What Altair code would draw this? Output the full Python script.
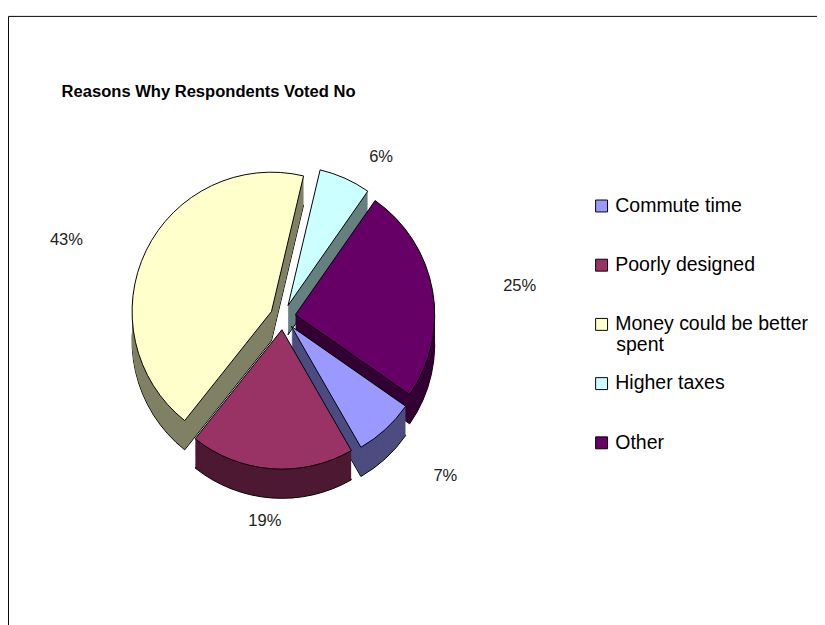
import altair as alt
import pandas as pd

# ---- data ----
reasons = ["Commute time", "Poorly designed", "Money could be better spent", "Higher taxes", "Other"]
shares = [7, 19, 43, 6, 25]
order = [0, 1, 2, 3, 4]
legend_first_line = {"Money could be better spent": "Money could be better"}
legend_second_line = ["spent"]

# ---- styles ----
top_colors = ["#9999FF", "#993366", "#FFFFCC", "#CCFFFF", "#660066"]
side_colors = ["#4C4C80", "#4D1933", "#808066", "#668080", "#330033"]

df = pd.DataFrame({"reason": reasons, "value": shares, "order": order})

W, H = 830, 625
CX, CY = 282, 309      # pie centre (view px)
R = 143                # radius
EXP = 13               # explosion distance
DEPTH = 30             # fake 3-D depth
LAB = 24               # label distance beyond rim
KX = 1.4               # horizontal label spread
START = 2.18           # first slice start angle (rad, clockwise from 12 o'clock)

LEG_X, LEG_Y = 599, 185
ROW = 60.75
LEG_FS = 20

base = (
    alt.Chart(df)
    .transform_joinaggregate(total="sum(value)")
    .transform_window(cum="sum(value)", sort=[alt.SortField("order")], frame=[None, 0])
    .transform_calculate(
        t0=f"{START} + 2*PI*(datum.cum - datum.value)/datum.total",
        t1=f"{START} + 2*PI*datum.cum/datum.total",
        side="datum.reason + ' side'",
    )
    .transform_calculate(mid="(datum.t0 + datum.t1)/2")
    .transform_calculate(
        cx=f"{CX} + {EXP}*sin(datum.mid)",
        cy=f"{CY} - {EXP}*cos(datum.mid)",
        pct="format(datum.value/datum.total, '.0%')",
    )
    .transform_calculate(
        lx=f"datum.cx + {KX}*{R + LAB}*sin(datum.mid)",
        ly=f"datum.cy - {R + LAB}*cos(datum.mid) + (cos(datum.mid) < 0 ? {DEPTH} : 0)",
    )
)

pos = dict(
    x=alt.X("cx:Q", scale=None, axis=None),
    y=alt.Y("cy:Q", scale=None, axis=None),
    theta=alt.Theta("t0:Q", scale=None),
    theta2=alt.Theta2("t1:Q"),
)

side_fill = alt.Fill(
    "side:N",
    scale=alt.Scale(domain=[r + " side" for r in reasons], range=side_colors),
    legend=None,
)

layers = []
layers.append(base.mark_arc(radius=R, yOffset=DEPTH, stroke="black", strokeWidth=1).encode(fill=side_fill, **pos))
for k in range(DEPTH - 1, 0, -1):
    layers.append(base.mark_arc(radius=R, yOffset=k, strokeWidth=0).encode(fill=side_fill, **pos))

label_expr = " : ".join(
    [f"datum.label == '{full}' ? '{first}'" for full, first in legend_first_line.items()] + ["datum.label"]
)

top = base.mark_arc(radius=R, stroke="black", strokeWidth=1).encode(
    color=alt.Color(
        "reason:N",
        scale=alt.Scale(domain=reasons, range=top_colors),
        sort=reasons,
        legend=alt.Legend(
            title=None,
            orient="none",
            legendX=LEG_X,
            legendY=LEG_Y,
            symbolType="square",
            symbolSize=150,
            symbolStrokeColor="black",
            symbolStrokeWidth=1,
            symbolOpacity=1,
            labelFont="Liberation Sans",
            labelFontSize=LEG_FS,
            labelColor="black",
            labelLimit=400,
            rowPadding=ROW - LEG_FS,
            labelExpr=label_expr,
        ),
    ),
    **pos,
)
layers.append(top)

labels = base.mark_text(font="Liberation Sans", fontSize=17, color="#222222").encode(
    x=alt.X("lx:Q", scale=None, axis=None),
    y=alt.Y("ly:Q", scale=None, axis=None),
    text="pct:N",
)
layers.append(labels)

# continuation line of the wrapped legend label
spent = alt.Chart(pd.DataFrame({"t": legend_second_line})).mark_text(
    font="Liberation Sans", fontSize=LEG_FS, align="left", baseline="middle", color="black"
).encode(x=alt.value(LEG_X + 25), y=alt.value(LEG_Y + 2 * ROW + 10 + 21), text="t:N")
layers.append(spent)

title = alt.Chart(pd.DataFrame({"t": ["Reasons Why Respondents Voted No"]})).mark_text(
    font="Liberation Sans", fontSize=17, fontWeight="bold",
    align="left", baseline="middle", color="black"
).encode(x=alt.value(55), y=alt.value(78), text="t:N")
layers.append(title)

chart = (
    alt.layer(*layers)
    .properties(
        width=W,
        height=H,
        background="white",
        autosize=alt.AutoSizeParams(type="none"),
        padding={"left": 0, "top": 0, "right": 0, "bottom": 0},
    )
    .configure_view(stroke="black", strokeWidth=1)
)

chart.save("out.html", embed_options={"renderer": "svg", "actions": False})
